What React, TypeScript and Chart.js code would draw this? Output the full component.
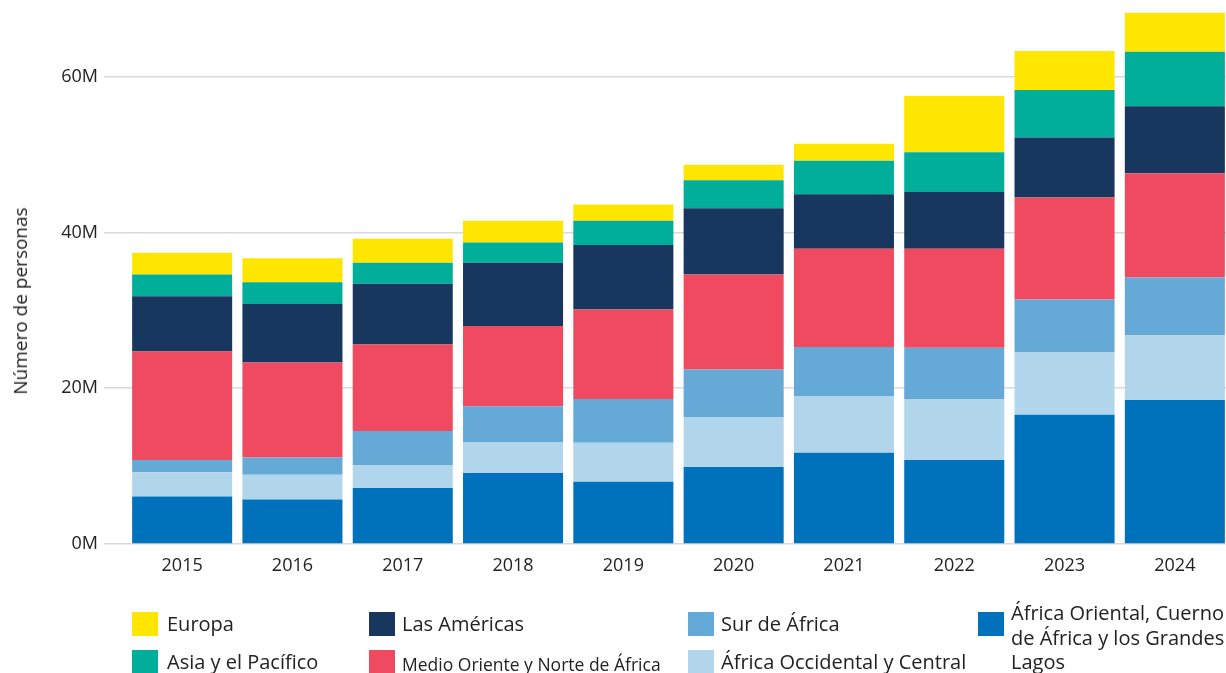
import React, { useEffect, useRef } from "react";
import { Chart, registerables } from "chart.js";

Chart.register(...registerables);

const years = ["2015", "2016", "2017", "2018", "2019", "2020", "2021", "2022", "2023", "2024"];

// millions of people
const africaOriental = [6.1, 5.7, 7.2, 9.1, 8.0, 9.9, 11.7, 10.8, 16.6, 18.5];
const africaOccidental = [3.1, 3.2, 2.95, 4.0, 5.0, 6.4, 7.3, 7.8, 8.0, 8.3];
const surAfrica = [1.6, 2.2, 4.35, 4.6, 5.6, 6.1, 6.3, 6.6, 6.8, 7.4];
const medioOriente = [13.9, 12.2, 11.1, 10.3, 11.5, 12.2, 12.6, 12.7, 13.1, 13.4];
const americas = [7.1, 7.5, 7.8, 8.1, 8.3, 8.5, 7.0, 7.3, 7.7, 8.6];
const asiaPacifico = [2.8, 2.8, 2.7, 2.6, 3.1, 3.6, 4.3, 5.1, 6.1, 7.0];
const europa = [2.8, 3.1, 3.1, 2.8, 2.1, 2.0, 2.2, 7.2, 5.0, 5.0];

const yTicks = [0, 20, 40, 60];
const yTitle = "Número de personas";

const series = [
  { label: "África Oriental, Cuerno de África y los Grandes Lagos", data: africaOriental, color: "#0072BC" },
  { label: "África Occidental y Central", data: africaOccidental, color: "#B1D5EA" },
  { label: "Sur de África", data: surAfrica, color: "#65A9D7" },
  { label: "Medio Oriente y Norte de África", data: medioOriente, color: "#EF4A60" },
  { label: "Las Américas", data: americas, color: "#18375E" },
  { label: "Asia y el Pacífico", data: asiaPacifico, color: "#00AE9A" },
  { label: "Europa", data: europa, color: "#FFE600" },
];

// legend order (column-major, 2 rows)
const legendOrder = ["Europa", "Asia y el Pacífico", "Las Américas", "Medio Oriente y Norte de África", "Sur de África", "África Occidental y Central", "África Oriental, Cuerno de África y los Grandes Lagos"];

const FONT = "'Open Sans', Lato, sans-serif";

export default function App() {
  const ref = useRef<HTMLCanvasElement | null>(null);

  useEffect(() => {
    document.body.style.margin = "0";
    const canvas = ref.current;
    if (!canvas) return;
    const chart = new Chart(canvas, {
      type: "bar",
      data: {
        labels: years,
        datasets: series.map((s) => ({
          label: s.label,
          data: s.data,
          backgroundColor: s.color,
          borderWidth: 0,
          barPercentage: 1,
          categoryPercentage: 0.907,
        })),
      },
      options: {
        responsive: false,
        animation: false,
        layout: { padding: { top: 12, right: 10, left: 0, bottom: 0 } },
        plugins: { legend: { display: false }, tooltip: { enabled: false }, title: { display: false } },
        scales: {
          x: {
            stacked: true,
            grid: { display: false, drawTicks: false },
            border: { display: false },
            ticks: { color: "#222", font: { family: FONT, size: 18 }, padding: 11 },
            afterFit: (scale: any) => {
              scale.height = 129;
            },
          },
          y: {
            stacked: true,
            min: 0,
            max: 68.3,
            border: { display: false },
            grid: { color: "#d9d9d9", lineWidth: 1.5, drawTicks: true, tickLength: 23, tickColor: "#d9d9d9" },
            afterBuildTicks: (scale: any) => {
              scale.ticks = yTicks.map((v) => ({ value: v }));
            },
            ticks: {
              color: "#222",
              font: { family: FONT, size: 18 },
              padding: 6,
              callback: (v: any) => `${v}M`,
            },
            afterFit: (scale: any) => {
              scale.width = 127;
              scale.paddingTop = 0;
              scale.paddingBottom = 0;
            },
          },
        },
      },
    });
    return () => chart.destroy();
  }, []);

  const colLeft = [132, 369, 688, 978];
  const colGap = [9, 7, 7, 7];
  const rowTop = [612, 650];

  return (
    <div style={{ position: "relative", width: 1226, height: 673, overflow: "hidden", background: "#fff" }}>
      <canvas ref={ref} width={1240} height={673} style={{ position: "absolute", left: 0, top: 0, width: 1240, height: 673 }} />
      <div
        style={{
          position: "absolute",
          left: 20,
          top: 301,
          transform: "translate(-50%, -50%) rotate(-90deg)",
          whiteSpace: "nowrap",
          fontFamily: FONT,
          fontSize: 19,
          color: "#222",
        }}
      >
        {yTitle}
      </div>
      {legendOrder.map((name, i) => {
        const s = series.find((d) => d.label === name)!;
        const col = Math.floor(i / 2);
        const row = i % 2;
        const long = name.length > 28 && col === 1;
        const wrap = col === 3;
        return (
          <div key={name} style={{ position: "absolute", left: colLeft[col], top: rowTop[row], display: "flex", alignItems: "flex-start" }}>
            <div style={{ width: 26, height: 24, background: s.color, flex: "none" }} />
            <div
              style={{
                marginLeft: colGap[col],
                fontFamily: FONT,
                fontSize: long ? 17.5 : 20,
                lineHeight: wrap ? "24.5px" : "24px",
                color: "#222",
                width: wrap ? 232 : undefined,
                whiteSpace: wrap ? "normal" : "nowrap",
                marginTop: wrap ? -11 : long ? 2 : 0,
              }}
            >
              {name}
            </div>
          </div>
        );
      })}
    </div>
  );
}
